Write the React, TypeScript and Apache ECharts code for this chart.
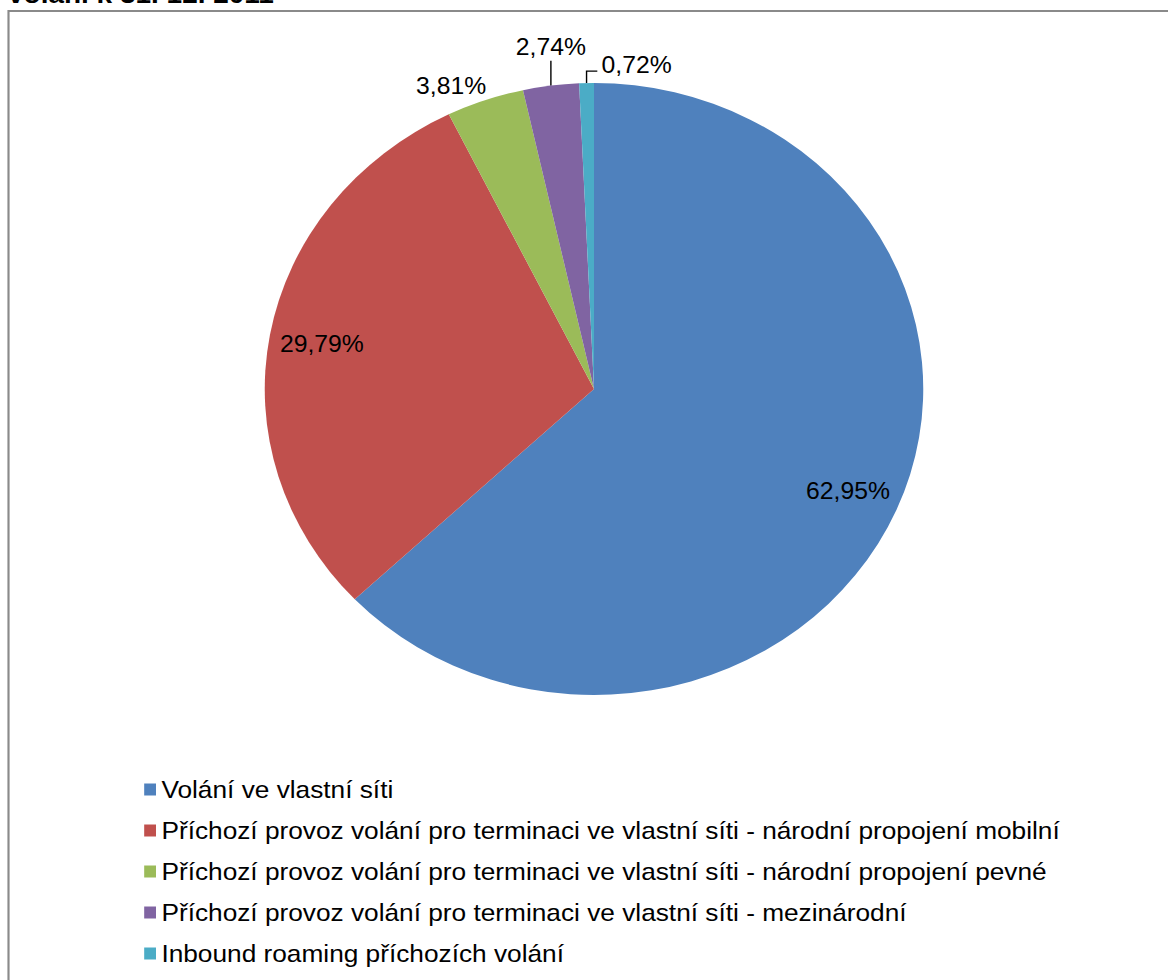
import React, { useEffect, useRef } from "react";
import * as echarts from "echarts";

const categories = [
  "Volání ve vlastní síti",
  "Příchozí provoz volání pro terminaci ve vlastní síti - národní propojení mobilní",
  "Příchozí provoz volání pro terminaci ve vlastní síti - národní propojení pevné",
  "Příchozí provoz volání pro terminaci ve vlastní síti - mezinárodní",
  "Inbound roaming příchozích volání",
];
const values = [62.95, 29.79, 3.81, 2.74, 0.72];
const colors = ["#4F81BD", "#C0504D", "#9BBB59", "#8064A2", "#4BACC6"];
const titleText = "volání k 31. 12. 2011";

// horizontal stretch of the whole picture (pie is an ellipse in the reference)
const SX = 1.076;
const W = 1168 / SX;
const H = 980;
const FONT = '"Liberation Sans", Arial, sans-serif';

const fmt = (v: number) => v.toFixed(2).replace(".", ",") + "%";

export default function App() {
  const ref = useRef<HTMLDivElement>(null);
  useEffect(() => {
    if (!ref.current) return;
    const chart = echarts.init(ref.current, null, { renderer: "svg" });
    const cx = 594 / SX;
    const cy = 389;
    const R = 306;
    chart.setOption({
      animation: false,
      backgroundColor: "#ffffff",
      graphic: [
        {
          type: "rect",
          shape: { x: 8.5 / SX, y: 11, width: 2000, height: 2000 },
          style: { fill: "none", stroke: "#8a8a8a", lineWidth: 2 },
          silent: true,
        },
        {
          type: "text",
          x: 8 / SX,
          y: 7,
          style: {
            text: titleText,
            font: `bold 26px ${FONT}`,
            fill: "#000",
            verticalAlign: "bottom",
          },
          silent: true,
        },
      ],
      legend: {
        orient: "vertical",
        left: 129,
        top: 772,
        itemWidth: 11,
        itemHeight: 12,
        itemGap: 16,
        icon: "rect",
        textStyle: { fontFamily: FONT, fontSize: 24.4, color: "#000", lineHeight: 25 },
        data: categories,
        selectedMode: false,
      },
      series: [
        {
          type: "pie",
          center: [cx, cy],
          radius: R,
          startAngle: 90,
          clockwise: true,
          silent: true,
          emphasis: { disabled: true },
          label: {
            position: "outside",
            formatter: (p: any) => fmt(p.value),
            fontFamily: FONT,
            fontSize: 23,
            color: "#000",
          },
          labelLine: { length: 20, length2: 0, lineStyle: { color: "#000", width: 1.3 } },
          labelLayout: (params: any) => {
            if (params.seriesIndex !== 0) return {};
            const pts = params.labelLinePoints;
            if (!pts) return {};
            const ex = pts[0][0];
            const ey = pts[0][1];
            const i = params.dataIndex;
            if (i === 2) {
              return { x: ex + 1, y: ey - 3, align: "right", verticalAlign: "bottom" };
            }
            if (i === 3) {
              return {
                x: ex,
                y: ey - 27,
                align: "center",
                verticalAlign: "bottom",
                labelLinePoints: [
                  [ex, ey],
                  [ex, ey - 25],
                  [ex, ey - 25],
                ],
              };
            }
            if (i === 4) {
              return {
                x: ex + 14,
                y: ey - 18,
                align: "left",
                verticalAlign: "middle",
                labelLinePoints: [
                  [ex, ey],
                  [ex, ey - 12],
                  [ex + 10, ey - 12],
                ],
              };
            }
            return {};
          },
          data: categories.map((name, i) => ({
            name,
            value: values[i],
            itemStyle: { color: colors[i] },
            label: { show: i >= 2 },
            labelLine: { show: i >= 3 },
          })),
        },
        {
          type: "pie",
          center: [cx, cy],
          radius: [R * 0.66, R],
          startAngle: 90,
          clockwise: true,
          silent: true,
          emphasis: { disabled: true },
          itemStyle: { color: "rgba(0,0,0,0)" },
          label: {
            position: "inside",
            formatter: (p: any) => fmt(p.value),
            fontFamily: FONT,
            fontSize: 23,
            color: "#000",
          },
          labelLine: { show: false },
          data: categories.map((name, i) => ({
            name,
            value: values[i],
            label: { show: i < 2 },
          })),
        },
      ],
    });
    return () => chart.dispose();
  }, []);
  return (
    <div
      style={{
        position: "absolute",
        left: 0,
        top: 0,
        width: W,
        height: H,
        transform: `scaleX(${SX})`,
        transformOrigin: "0 0",
        overflow: "hidden",
      }}
    >
      <div ref={ref} style={{ width: W, height: H }} />
    </div>
  );
}
